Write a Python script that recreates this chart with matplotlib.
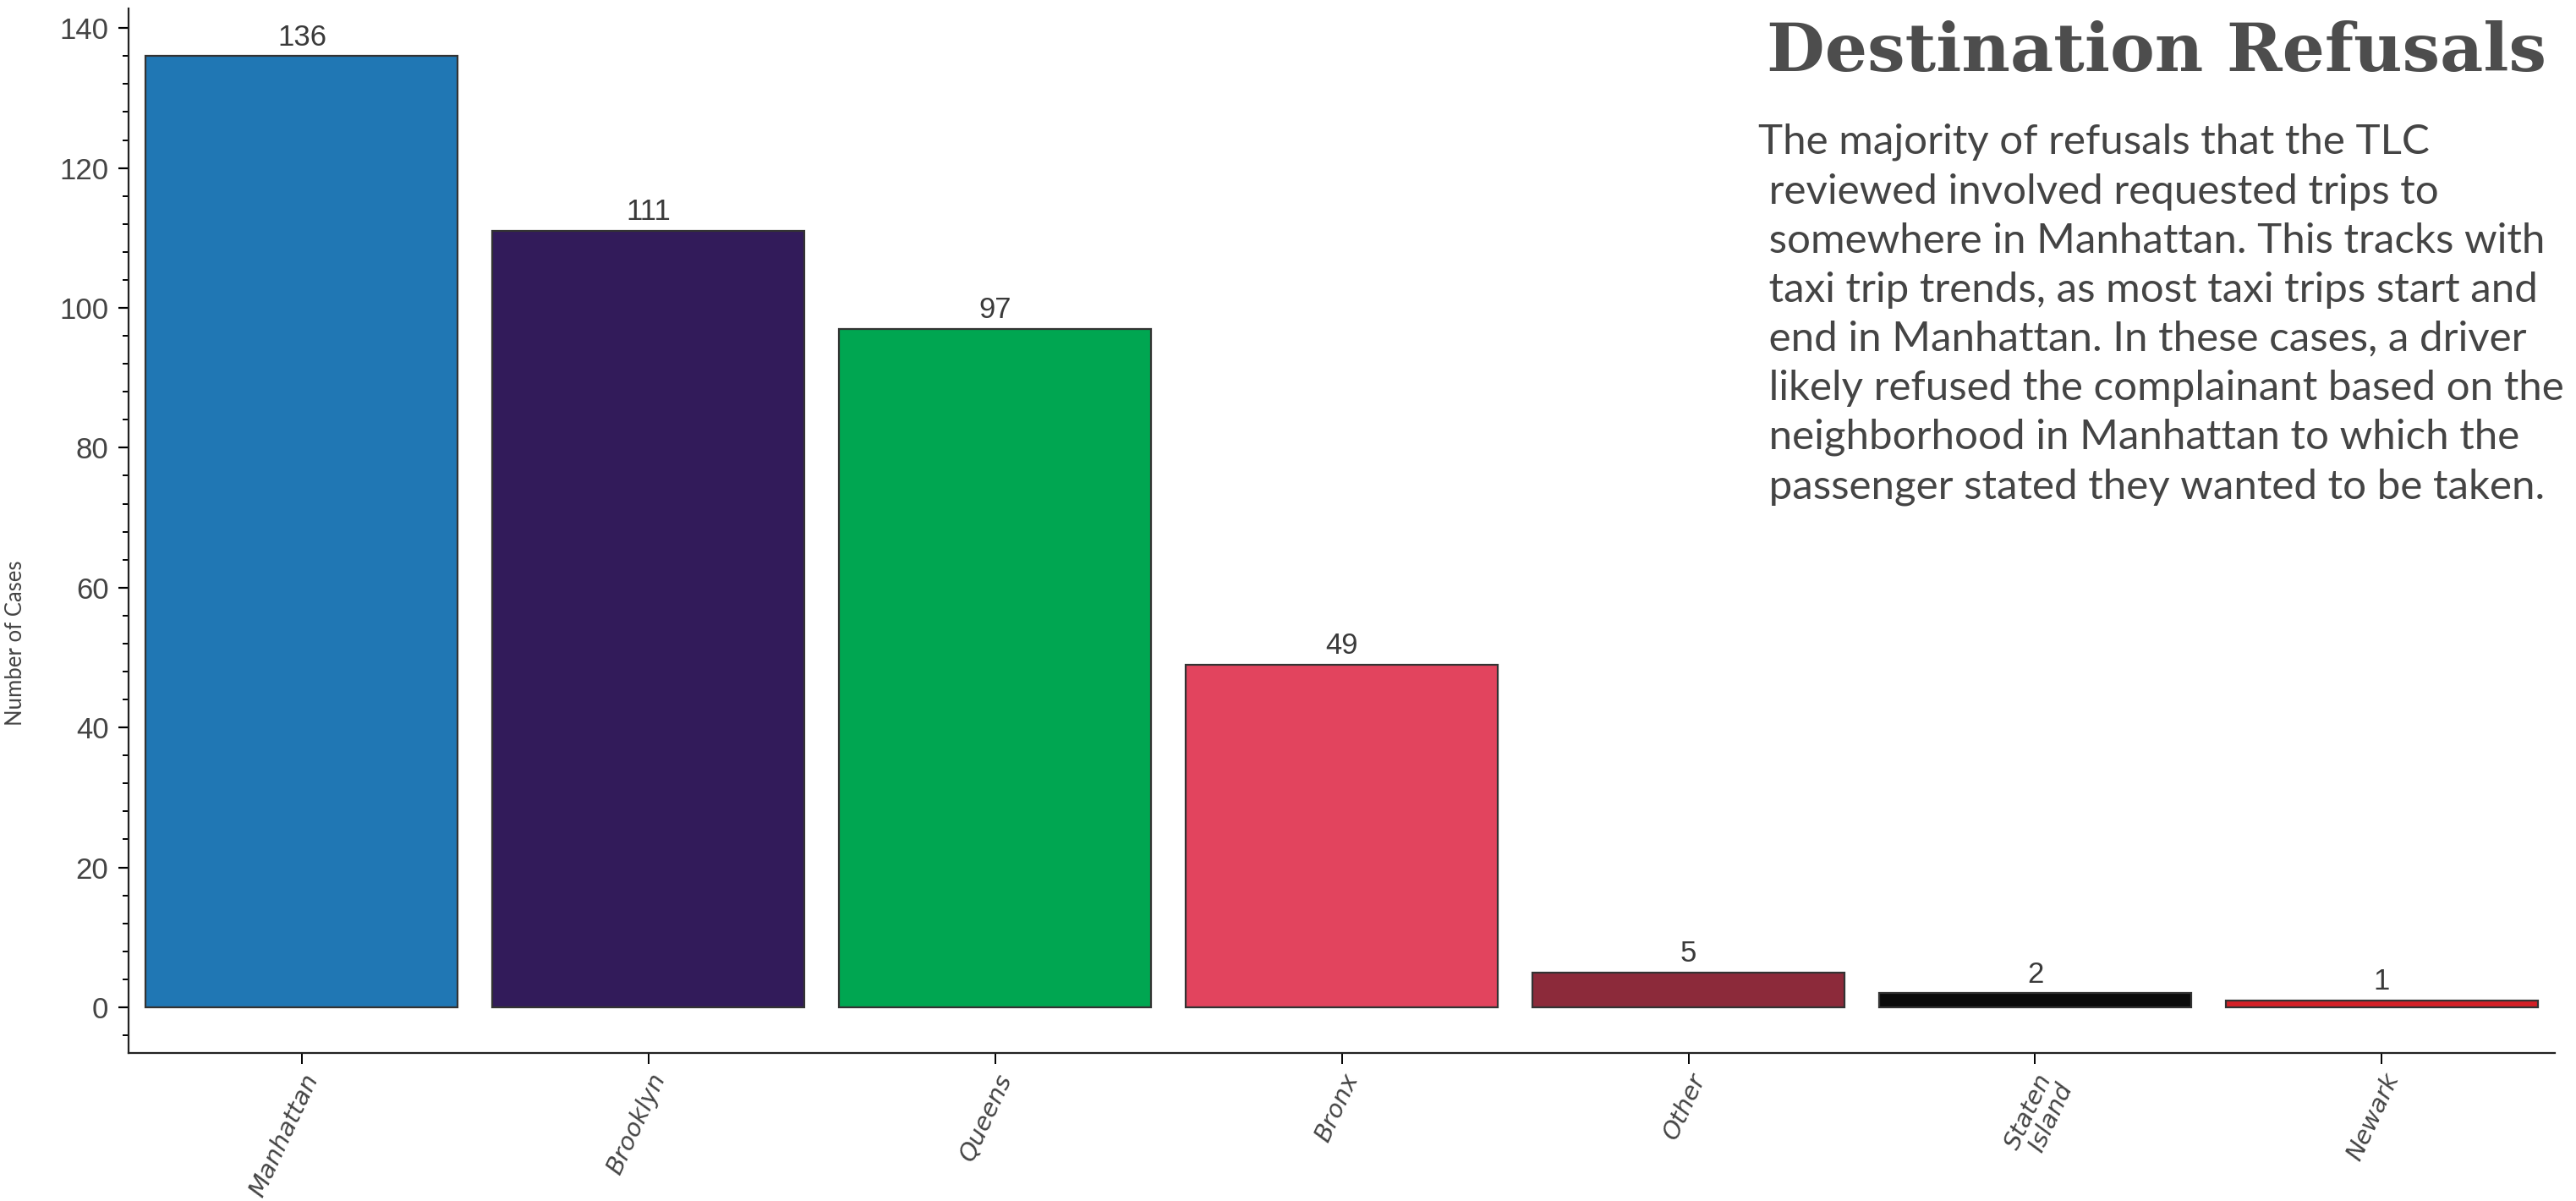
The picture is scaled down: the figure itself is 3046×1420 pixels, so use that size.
import matplotlib
matplotlib.use("Agg")
import matplotlib.pyplot as plt
from matplotlib.ticker import MultipleLocator

# refusal destinations and case counts
boroughs = ["Manhattan", "Brooklyn", "Queens", "Bronx", "Other", "Staten\nIsland", "Newark"]
cases = [136, 111, 97, 49, 5, 2, 1]
bar_colors = ["#2077b4", "#321b5a", "#00a651", "#e2445e", "#8c2a3a", "#0b0b0b", "#d42027"]

title = "Destination Refusals"
blurb = [
    "The majority of refusals that the TLC",
    " reviewed involved requested trips to",
    " somewhere in Manhattan. This tracks with",
    " taxi trip trends, as most taxi trips start and",
    " end in Manhattan. In these cases, a driver",
    " likely refused the complainant based on the",
    " neighborhood in Manhattan to which the",
    " passenger stated they wanted to be taken.",
]

text_grey = "#444444"

fig = plt.figure(figsize=(30.46, 14.2), dpi=100)
ax = fig.add_axes([0.0499, 0.1229, 0.942, 0.870])

positions = list(range(len(boroughs)))
bars = ax.bar(positions, cases, width=0.9, color=bar_colors,
              edgecolor="#333333", linewidth=1.6)

# count on top of each bar
for rect, n in zip(bars, cases):
    ax.annotate(str(n), (rect.get_x() + rect.get_width() / 2, rect.get_height()),
                xytext=(0, 4), textcoords="offset points", ha="center", va="bottom",
                fontsize=25, color="#3a3a3a", family="Liberation Sans")

ax.set_xlim(-0.5, 6.5)
ax.set_ylim(-6.6, 142.8)
ax.yaxis.set_major_locator(MultipleLocator(20))
ax.yaxis.set_minor_locator(MultipleLocator(4))

ax.spines["top"].set_visible(False)
ax.spines["right"].set_visible(False)
for side in ("left", "bottom"):
    ax.spines[side].set_linewidth(1.6)
    ax.spines[side].set_color("#222222")

ax.tick_params(axis="y", which="major", length=9, width=1.6, labelsize=25,
               labelcolor=text_grey, pad=8)
ax.tick_params(axis="y", which="minor", length=5, width=1.4)
ax.tick_params(axis="x", which="major", length=9, width=1.4, pad=5)
for lab in ax.get_yticklabels():
    lab.set_family("Liberation Sans")

ax.set_xticks(positions)
ax.set_xticklabels(boroughs, rotation=65, ha="right", rotation_mode="anchor",
                   fontsize=21, color=text_grey, style="italic",
                   family="DejaVu Sans", linespacing=0.95)

ax.set_ylabel("Number of Cases", fontsize=18.5, color=text_grey, family="Lato")
ax.yaxis.set_label_coords(-0.0422, 0.393)

fig.text(2089 / 3046, 1 - 84 / 1420, title, fontsize=57, color="#4d4d4d",
         family="DejaVu Serif", weight="bold", ha="left", va="baseline")
fig.text(2079 / 3046, 1 - 146 / 1420, "\n".join(blurb), fontsize=35.5,
         color=text_grey, family="Lato", ha="left", va="top",
         linespacing=1.39)

fig.savefig("out.png", dpi=100)
